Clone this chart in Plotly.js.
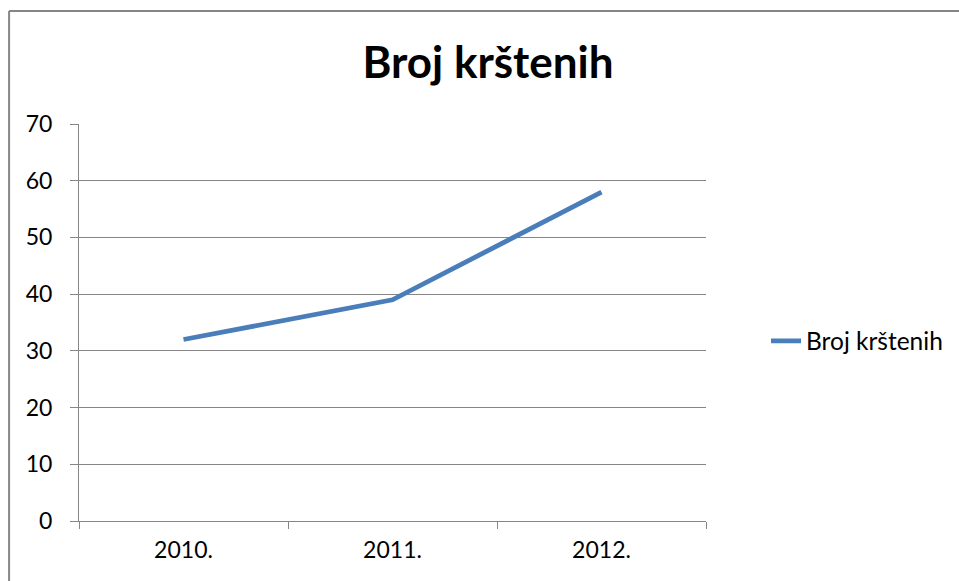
<!DOCTYPE html>
<html>
<head>
<meta charset="utf-8">
<script src="https://cdn.plot.ly/plotly-3.0.1.min.js"></script>
<style>html,body{margin:0;padding:0;background:#fff;}#chart{width:959px;height:581px;}</style>
</head>
<body>
<div id="chart"></div>
<script>
const categories = ["2010.", "2011.", "2012."];
const seriesName = "Broj krštenih";
const values = [32, 39, 58];
const yTickValues = [0, 10, 20, 30, 40, 50, 60, 70];

const font = "Lato, 'Open Sans', sans-serif";
const gray = "#868686";

const trace = {
  type: "scatter",
  mode: "lines",
  x: categories,
  y: values,
  name: seriesName,
  line: {color: "#4a7ebb", width: 4.8}
};

const layout = {
  width: 959,
  height: 581,
  margin: {l: 79, r: 252, t: 124, b: 60},
  paper_bgcolor: "#fff",
  plot_bgcolor: "#fff",
  font: {family: font, size: 23, color: "#000"},
  title: {
    text: "<b>Broj krštenih</b>",
    font: {family: font, size: 44, color: "#000"},
    xref: "container", yref: "container",
    x: 488/959, xanchor: "center",
    y: 1 - 63/581, yanchor: "middle"
  },
  xaxis: {
    type: "category",
    range: [-0.5, 2.5],
    tickson: "boundaries",
    ticks: "outside",
    ticklen: 7,
    tickcolor: gray,
    tickwidth: 1,
    showline: true,
    linecolor: gray,
    linewidth: 1,
    showgrid: false,
    ticklabelstandoff: 8,
    tickfont: {family: font, size: 23, color: "#000"}
  },
  yaxis: {
    range: [0, 70],
    tickvals: yTickValues,
    ticks: "outside",
    ticklen: 8,
    tickcolor: gray,
    tickwidth: 1,
    showline: true,
    linecolor: gray,
    linewidth: 1,
    showgrid: true,
    gridcolor: gray,
    gridwidth: 1,
    zeroline: false,
    ticklabelstandoff: 13,
    tickfont: {family: font, size: 23, color: "#000"}
  },
  showlegend: true,
  legend: {
    x: (806 - 79 - 40) / 628,
    xanchor: "left",
    y: (521 - 341) / 397,
    yanchor: "middle",
    font: {family: font, size: 24.5, color: "#000"},
    bgcolor: "rgba(0,0,0,0)"
  },
  shapes: [
    {type: "line", xref: "paper", yref: "paper", x0: -0.1115, x1: -0.1115, y0: 1.2846, y1: -0.3, line: {color: gray, width: 2}},
    {type: "line", xref: "paper", yref: "paper", x0: -0.1115, x1: 1.6, y0: 1.2846, y1: 1.2846, line: {color: gray, width: 2}}
  ]
};

Plotly.newPlot("chart", [trace], layout, {displayModeBar: false, staticPlot: true});
</script>
</body>
</html>
